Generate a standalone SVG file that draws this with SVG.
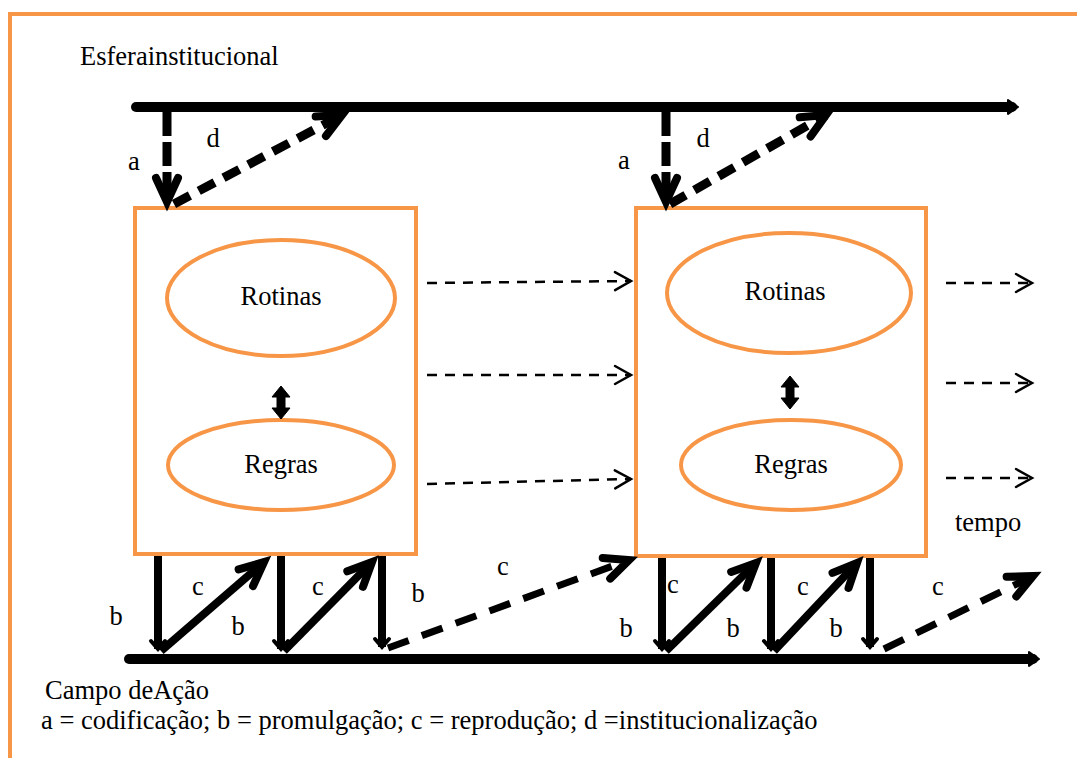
<svg xmlns="http://www.w3.org/2000/svg" width="1077" height="758" viewBox="0 0 1077 758">
<style>
  .t { font-family: "Liberation Serif", "Times New Roman", Times, serif; font-size: 26.5px; fill: #000; }
  .m { text-anchor: middle; }
  .or { fill: none; stroke: #F79646; stroke-width: 4; }
  .thick { fill: none; stroke: #000; stroke-width: 10; stroke-linecap: round; }
  .solid { fill: none; stroke: #000; stroke-width: 8; }
  .dbl { fill: #000; stroke: #000; stroke-width: 1; stroke-linejoin: round; }
  .dashA { fill: none; stroke: #000; stroke-width: 9; stroke-dasharray: 24 6; }
  .dashD { fill: none; stroke: #000; stroke-width: 9; stroke-dasharray: 18 10; }
  .dashC { fill: none; stroke: #000; stroke-width: 7; stroke-dasharray: 22 14; }
  .thin { fill: none; stroke: #000; stroke-width: 2.5; stroke-dasharray: 10 8; }
</style>
<defs>
  <marker id="vThick" markerUnits="userSpaceOnUse" orient="auto" refX="0" refY="0" overflow="visible">
    <path d="M-24,-11 L0,0 L-24,11" fill="none" stroke="#000" stroke-width="8" stroke-linecap="round" stroke-linejoin="miter"/>
  </marker>
  <marker id="vThin" markerUnits="userSpaceOnUse" orient="auto" refX="0" refY="0" overflow="visible">
    <path d="M-16,-9 L0,0 L-16,9" fill="none" stroke="#000" stroke-width="2.5" stroke-linecap="round"/>
  </marker>
  <marker id="tip" markerUnits="userSpaceOnUse" orient="auto" refX="0" refY="0" overflow="visible">
    <path d="M-4,-7 L6,0 L-4,7 Z" fill="#000" stroke="#000" stroke-width="2" stroke-linejoin="round"/>
  </marker>
  <marker id="smallTip" markerUnits="userSpaceOnUse" orient="auto" refX="0" refY="0" overflow="visible">
    <path d="M-8,-7 L0,0 L-8,7" fill="none" stroke="#000" stroke-width="4" stroke-linecap="round"/>
  </marker>
</defs>

<!-- frame -->
<path d="M10,758 V14 H1077" class="or"/>

<g id="label-esfera"><text class="t" x="80" y="65">Esferainstitucional</text></g>

<g id="node-box1">
  <rect x="135" y="208" width="281" height="346" class="or"/>
</g>
<g id="node-rotinas1">
  <ellipse cx="281" cy="298" rx="114" ry="58" class="or"/>
  <text class="t m" x="281" y="305">Rotinas</text>
</g>
<g id="node-regras1">
  <ellipse cx="281" cy="465" rx="113" ry="45" class="or"/>
  <text class="t m" x="281" y="473">Regras</text>
</g>
<g id="node-box2">
  <rect x="636" y="208" width="290" height="348" class="or"/>
</g>
<g id="node-rotinas2">
  <ellipse cx="789" cy="293" rx="122" ry="60" class="or"/>
  <text class="t m" x="785" y="300">Rotinas</text>
</g>
<g id="node-regras2">
  <ellipse cx="791" cy="465" rx="110" ry="45" class="or"/>
  <text class="t m" x="791" y="473">Regras</text>
</g>

<g id="connectors">
  <!-- main lines -->
  <line x1="136" y1="107" x2="1012" y2="107" class="thick" marker-end="url(#tip)"/>
  <line x1="129" y1="659" x2="1033" y2="659" class="thick" stroke-width="12" marker-end="url(#tip)"/>

  <!-- a / d top -->
  <line x1="167" y1="112" x2="167" y2="202" class="dashA" marker-end="url(#vThick)"/>
  <line x1="174" y1="204" x2="342" y2="115" class="dashD" marker-end="url(#vThick)"/>
  <line x1="666" y1="112" x2="666" y2="202" class="dashA" marker-end="url(#vThick)"/>
  <line x1="670" y1="204" x2="826" y2="115" class="dashD" marker-end="url(#vThick)"/>

  <!-- double arrows -->
  <path class="dbl" d="M281,386 L290,397 L285,397 L285,408 L290,408 L281,419 L272,408 L277,408 L277,397 L272,397 Z"/>
  <path class="dbl" d="M790,376 L799,387 L794,387 L794,398 L799,398 L790,409 L781,398 L786,398 L786,387 L781,387 Z"/>

  <!-- thin dashed time arrows -->
  <line x1="427" y1="283" x2="631" y2="281" class="thin" marker-end="url(#vThin)"/>
  <line x1="427" y1="375" x2="631" y2="375" class="thin" marker-end="url(#vThin)"/>
  <line x1="427" y1="484" x2="631" y2="479" class="thin" marker-end="url(#vThin)"/>
  <line x1="946" y1="283" x2="1032" y2="283" class="thin" marker-end="url(#vThin)"/>
  <line x1="946" y1="383" x2="1032" y2="383" class="thin" marker-end="url(#vThin)"/>
  <line x1="946" y1="478" x2="1032" y2="478" class="thin" marker-end="url(#vThin)"/>

  <!-- bottom left b / c -->
  <line x1="158" y1="556" x2="158" y2="649" class="solid" stroke-width="9" marker-end="url(#smallTip)"/>
  <line x1="281" y1="556" x2="281" y2="649" class="solid" stroke-width="9" marker-end="url(#smallTip)"/>
  <line x1="382" y1="556" x2="382" y2="647" class="solid" stroke-width="9" marker-end="url(#smallTip)"/>
  <line x1="161" y1="651" x2="264" y2="562" class="solid" marker-end="url(#vThick)"/>
  <line x1="284" y1="651" x2="372" y2="562" class="solid" marker-end="url(#vThick)"/>
  <line x1="388" y1="648" x2="629" y2="560" class="dashC" marker-end="url(#vThick)"/>

  <!-- bottom right b / c -->
  <line x1="662" y1="558" x2="662" y2="649" class="solid" stroke-width="9" marker-end="url(#smallTip)"/>
  <line x1="771" y1="558" x2="771" y2="649" class="solid" stroke-width="9" marker-end="url(#smallTip)"/>
  <line x1="870" y1="558" x2="870" y2="647" class="solid" stroke-width="9" marker-end="url(#smallTip)"/>
  <line x1="666" y1="651" x2="756" y2="563" class="solid" marker-end="url(#vThick)"/>
  <line x1="774" y1="651" x2="857" y2="563" class="solid" marker-end="url(#vThick)"/>
  <line x1="884" y1="649" x2="1033" y2="576" class="dashC" marker-end="url(#vThick)"/>
</g>

<g id="labels">
  <text class="t m" x="134" y="170">a</text>
  <text class="t m" x="213" y="147">d</text>
  <text class="t m" x="624" y="169">a</text>
  <text class="t m" x="703" y="147">d</text>

  <text class="t m" x="116" y="625">b</text>
  <text class="t m" x="198" y="595">c</text>
  <text class="t m" x="238" y="635">b</text>
  <text class="t m" x="318" y="595">c</text>
  <text class="t m" x="418" y="602">b</text>
  <text class="t m" x="503" y="575">c</text>

  <text class="t m" x="626" y="637">b</text>
  <text class="t m" x="673" y="593">c</text>
  <text class="t m" x="733" y="637">b</text>
  <text class="t m" x="803" y="595">c</text>
  <text class="t m" x="836" y="637">b</text>
  <text class="t m" x="938" y="595">c</text>

  <text class="t" x="955" y="531">tempo</text>
</g>

<g id="legend">
  <text class="t" x="45" y="699">Campo deAção</text>
  <text class="t" x="41" y="729">a = codificação; b = promulgação; c = reprodução; d =institucionalização</text>
</g>
</svg>
